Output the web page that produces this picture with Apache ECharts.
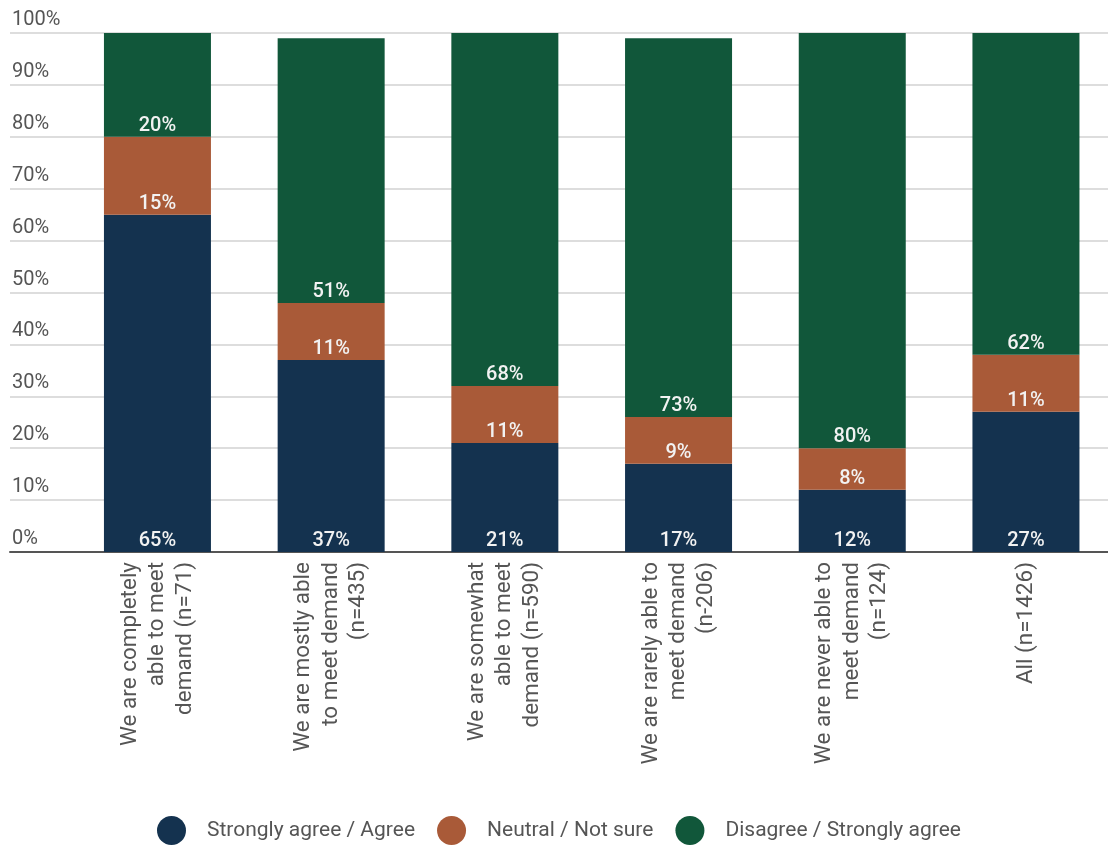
<!DOCTYPE html>
<html>
<head>
<meta charset="utf-8">
<script src="https://cdn.jsdelivr.net/npm/echarts@6/dist/echarts.min.js"></script>
<style>
  html, body { margin: 0; padding: 0; background: #ffffff; }
  #chart { width: 1108px; height: 845px; }
</style>
</head>
<body>
<div id="chart"></div>
<script>
// Survey groups (x axis)
const categories = [
  'We are completely\nable to meet\ndemand (n=71)',
  'We are mostly able\nto meet demand\n(n=435)',
  'We are somewhat\nable to meet\ndemand (n=590)',
  'We are rarely able to\nmeet demand\n(n-206)',
  'We are never able to\nmeet demand\n(n=124)',
  'All (n=1426)'
];

// Share of responses per group, in percent
const agreeValues    = [65, 37, 21, 17, 12, 27];
const neutralValues  = [15, 11, 11,  9,  8, 11];
const disagreeValues = [20, 51, 68, 73, 80, 62];

const seriesNames = ['Strongly agree / Agree', 'Neutral / Not sure', 'Disagree / Strongly agree'];
const seriesColors = ['#14324f', '#a95a38', '#11573a'];

const chart = echarts.init(document.getElementById('chart'));

const labelStyle = {
  show: true,
  position: 'insideBottom',
  distance: 1,
  color: '#f2f2f2',
  fontFamily: 'Roboto',
  fontWeight: 500,
  fontSize: 20,
  formatter: p => p.value + '%'
};

function barSeries(name, data, color) {
  return {
    name: name,
    type: 'bar',
    stack: 'total',
    xAxisIndex: 1,
    yAxisIndex: 1,
    barWidth: 107,
    data: data,
    itemStyle: { color: color },
    label: labelStyle
  };
}

chart.setOption({
  animation: false,
  backgroundColor: '#ffffff',
  textStyle: { fontFamily: 'Roboto' },
  grid: [
    // background grid: gridlines, percentage labels and base line
    { left: 10, right: 0, top: 33, bottom: 293, outerBoundsMode: 'none' },
    // grid holding the bars
    { left: 70.6, width: 1042.2, top: 33, bottom: 293, outerBoundsMode: 'none' }
  ],
  xAxis: [
    {
      gridIndex: 0, type: 'value', min: 0, max: 1,
      axisLine: { show: true, lineStyle: { color: '#555555', width: 2 } },
      axisTick: { show: false }, axisLabel: { show: false }, splitLine: { show: false }
    },
    {
      gridIndex: 1, type: 'category', data: categories,
      axisLine: { show: false }, axisTick: { show: false },
      axisLabel: {
        rotate: 90, interval: 0, margin: 10,
        color: '#555555', fontFamily: 'Roboto', fontSize: 22.5, lineHeight: 27.5
      }
    }
  ],
  yAxis: [
    {
      gridIndex: 0, type: 'value', min: 0, max: 100, interval: 10,
      axisLine: { show: false }, axisTick: { show: false },
      axisLabel: {
        inside: true, margin: 2, verticalAlign: 'bottom',
        color: '#555555', fontFamily: 'Roboto', fontSize: 20, lineHeight: 20,
        padding: [0, 0, 3, 0],
        formatter: '{value}%'
      },
      splitLine: { show: true, lineStyle: { color: '#dddddd', width: 2 } }
    },
    {
      gridIndex: 1, type: 'value', min: 0, max: 100, interval: 10, show: false,
      splitLine: { show: false }
    }
  ],
  legend: {
    data: seriesNames,
    top: 816,
    left: 157,
    padding: 0,
    icon: 'circle',
    itemWidth: 29,
    itemHeight: 29,
    itemGap: 22,
    textStyle: {
      color: '#555555', fontFamily: 'Roboto', fontSize: 21,
      padding: [0, 0, 0, 16]
    }
  },
  series: [
    barSeries(seriesNames[0], agreeValues, seriesColors[0]),
    barSeries(seriesNames[1], neutralValues, seriesColors[1]),
    barSeries(seriesNames[2], disagreeValues, seriesColors[2])
  ]
});
</script>
</body>
</html>
